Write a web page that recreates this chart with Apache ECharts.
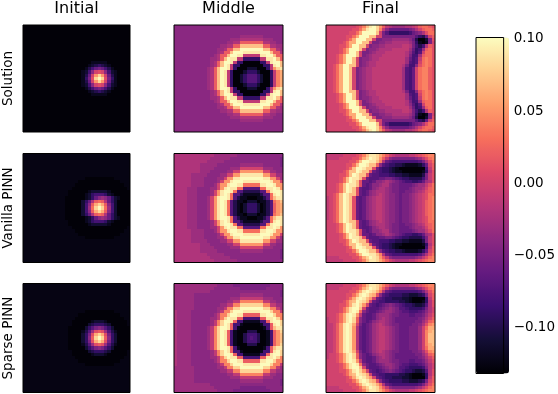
<!DOCTYPE html>
<html>
<head>
<meta charset="utf-8">
<style>html,body{margin:0;padding:0;background:#fff}#chart-container{width:558px;height:394px}</style>
<script src="https://cdn.jsdelivr.net/npm/echarts@6/dist/echarts.min.js"></script>
</head>
<body>
<div id="chart-container"></div>
<script>
// cell values are stored as one letter per cell, see levelChars / levelValues
const levelChars = 'abcdefghijklmnopqrstuvwxy';
const levelValues = [-0.13,-0.12,-0.11,-0.10,-0.09,-0.08,-0.07,-0.06,-0.05,-0.04,-0.03,-0.02,-0.01,0,0.01,0.02,0.03,0.04,0.05,0.06,0.07,0.08,0.09,0.10,-0.125];

const columnTitles = ['Initial', 'Middle', 'Final'];
const rowTitles = ['Solution', 'Vanilla PINN', 'Sparse PINN'];
const colorbarTicks = [-0.10, -0.05, 0, 0.05, 0.10];
const colorMin = -0.132;
const colorMax = 0.101;
const magma = ['#000004','#140e36','#3b0f70','#641a80','#8c2981','#b73779','#de4968','#f7705c','#fe9f6d','#fecf92','#fcfdbf'];

const solutionInitial = [
'aaaaaaaaaaaaaaaaaaaaaaaaaaaaaaaaa','aaaaaaaaaaaaaaaaaaaaaaaaaaaaaaaaa','aaaaaaaaaaaaaaaaaaaaaaaaaaaaaaaaa','aaaaaaaaaaaaaaaaaaaaaaaaaaaaaaaaa','aaaaaaaaaaaaaaaaaaaaaaaaaaaaaaaaa',
'aaaaaaaaaaaaaaaaaaaaaaaaaaaaaaaaa','aaaaaaaaaaaaaaaaaaaaaaaaaaaaaaaaa','aaaaaaaaaaaaaaaaaaaaaaaaaaaaaaaaa','aaaaaaaaaaaaaaaaaaaaaaaaaaaaaaaaa','aaaaaaaaaaaaaaaaaaaaaaaaaaaaaaaaa',
'aaaaaaaaaaaaaaaaaaaaaaaaaaaaaaaaa',
'aaaaaaaaaaaaaaaaaaaaabbbbbaaaaaaa',
'aaaaaaaaaaaaaaaaaaaabcdedcbaaaaaa',
'aaaaaaaaaaaaaaaaaaabdfhihfdbaaaaa',
'aaaaaaaaaaaaaaaaaabcfjnonjfcbaaaa',
'aaaaaaaaaaaaaaaaaabdhnsvsnhdbaaaa',
'aaaaaaaaaaaaaaaaaabeiovxvoiebaaaa',
'aaaaaaaaaaaaaaaaaabdhnsvsnhdbaaaa',
'aaaaaaaaaaaaaaaaaabcfjnonjfcbaaaa',
'aaaaaaaaaaaaaaaaaaabdfhihfdbaaaaa',
'aaaaaaaaaaaaaaaaaaaabcdedcbaaaaaa',
'aaaaaaaaaaaaaaaaaaaaabbbbbaaaaaaa',
'aaaaaaaaaaaaaaaaaaaaaaaaaaaaaaaaa',
'aaaaaaaaaaaaaaaaaaaaaaaaaaaaaaaaa','aaaaaaaaaaaaaaaaaaaaaaaaaaaaaaaaa','aaaaaaaaaaaaaaaaaaaaaaaaaaaaaaaaa','aaaaaaaaaaaaaaaaaaaaaaaaaaaaaaaaa','aaaaaaaaaaaaaaaaaaaaaaaaaaaaaaaaa',
'aaaaaaaaaaaaaaaaaaaaaaaaaaaaaaaaa','aaaaaaaaaaaaaaaaaaaaaaaaaaaaaaaaa','aaaaaaaaaaaaaaaaaaaaaaaaaaaaaaaaa','aaaaaaaaaaaaaaaaaaaaaaaaaaaaaaaaa','aaaaaaaaaaaaaaaaaaaaaaaaaaaaaaaaa'
];

const solutionMiddle = [
'jjjjjjjjjjjjjjjjjjjjjjjjjjjjjjjjj','jjjjjjjjjjjjjjjjjjjjjjjjjjjjjjjjj','jjjjjjjjjjjjjjjjjjjjjjjjjjjjjjjjj',
'jjjjjjjjjjjjjjjjjjjjkkkkkkkjjjjjj',
'jjjjjjjjjjjjjjjjjkkklllllllkkkjjj',
'jjjjjjjjjjjjjjjjkkllpppppppllkkjj',
'jjjjjjjjjjjjjjkkllppuuuuuuuppllkk',
'jjjjjjjjjjjjjkklppuuxxxxxxxuupplk',
'jjjjjjjjjjjjjklppuxxxwwwwwxxxuppl',
'jjjjjjjjjjjjklppuxxwwmmmmmwwxxupp',
'jjjjjjjjjjjkklpuxwwmmeeeeemmwwxup',
'jjjjjjjjjjjklpuxxwmeeaaaaaeemwxxu',
'jjjjjjjjjjjklpuxwmeeaaaaaaaeemwxu',
'jjjjjjjjjjklpuxxwmeaaacccaaaemsvw',
'jjjjjjjjjjklpuxwmeaaaceeecaaaemrt',
'jjjjjjjjjjklpuxwmeaacegggecaaemrt',
'jjjjjjjjjjklpuxwmeaacegggecaaemrt',
'jjjjjjjjjjklpuxwmeaacegggecaaemrt',
'jjjjjjjjjjklpuxwmeaaaceeecaaaemrt',
'jjjjjjjjjjklpuxxwmeaaacccaaaemsvw',
'jjjjjjjjjjjklpuxwmeeaaaaaaaeemwxu',
'jjjjjjjjjjjklpuxxwmeeaaaaaeemwxxu',
'jjjjjjjjjjjkklpuxwwmmeeeeemmwwxup',
'jjjjjjjjjjjjklppuxxwwmmmmmwwxxupp',
'jjjjjjjjjjjjjklppuxxxwwwwwxxxuppl',
'jjjjjjjjjjjjjkklppuuxxxxxxxuupplk',
'jjjjjjjjjjjjjjkkllppuuuuuuuppllkk',
'jjjjjjjjjjjjjjjjkkllpppppppllkkjj',
'jjjjjjjjjjjjjjjjjkkklllllllkkkjjj',
'jjjjjjjjjjjjjjjjjjjjkkkkkkkjjjjjj',
'jjjjjjjjjjjjjjjjjjjjjjjjjjjjjjjjj','jjjjjjjjjjjjjjjjjjjjjjjjjjjjjjjjj','jjjjjjjjjjjjjjjjjjjjjjjjjjjjjjjjj'
];

const solutionFinal = [
'nnnnnnnnnopruwxvspmlkkkkllmnpqqpo',
'nnnnnnnnooqtwxxvrmjhhhhhhijlnpqqp',
'nnnnnnnooqtxxxxunigeeeeeefhijloqq',
'nnnnnnooqtxxxuunniiiiiiiiiigedhnp',
'nnnnnnoqtxxxuuniijjjkkkkkjhdaacio',
'nnnnnoqttxxuuniijjkklllllkiebabin',
'nnnnooqtxxuunijjkklllllmmlifdflpo',
'nnnnoqtxxxunijjkllllmmmmmkhefkpqo',
'nnnnoqtxxuniijklllmmmmmmljgegnqqo',
'nnnoqtxxxunijklllmmmmmmmliffkpqqo',
'nnnoqtxxunijjkllmmmmmmmmkhfgmqrqo',
'nnnoqtxxunijkllmmmmmmmmmkgfgnqrqo',
'nnoqtxxuunijkllmmmmmmmmliffjoqrqo',
'nnoqtxxunijkllmmmmmmmmmkgfhnqrrpo',
'nnoqtxxunijkllmmmmmmmmmkgfhnqrrpo',
'nnoqtxxunijkllmmmmmmmmmkgfhnqrrpo',
'nnoqtxxunijkllmmmmmmmmmkgfhnqrrpo',
'nnoqtxxunijkllmmmmmmmmmkgfhnqrrpo',
'nnoqtxxunijkllmmmmmmmmmkgfhnqrrpo',
'nnoqtxxunijkllmmmmmmmmmkgfhnqrrpo',
'nnoqtxxuunijkllmmmmmmmmliffjoqrqo',
'nnnoqtxxunijkllmmmmmmmmmkgfgnqrqo',
'nnnoqtxxunijjkllmmmmmmmmkhfgmqrqo',
'nnnoqtxxxunijklllmmmmmmmliffkpqqo',
'nnnnoqtxxuniijklllmmmmmmljgegnqqo',
'nnnnoqtxxxunijjkllllmmmmmkhefkpqo',
'nnnnooqtxxuunijjkklllllmmlifdflpo',
'nnnnnoqttxxuuniijjkklllllkiebabin',
'nnnnnnoqtxxxuuniijjjkkkkkjhdaacio',
'nnnnnnooqtxxxuunniiiiiiiiiigedhnp',
'nnnnnnnooqtxxxxunigeeeeeefhijloqq',
'nnnnnnnnooqtwxxvrmjhhhhhhijlnpqqp',
'nnnnnnnnnopruwxvspmlkkkkllmnpqqpo'
];

const vanillaInitial = [
'yyyyyyyyyyyyyyyyyyyyyyyyyyyyyyyyy','yyyyyyyyyyyyyyyyyyyyyyyyyyyyyyyyy','yyyyyyyyyyyyyyyyyyyyyyyyyyyyyyyyy','yyyyyyyyyyyyyyyyyyyyyyyyyyyyyyyyy','yyyyyyyyyyyyyyyyyyyyyyyyyyyyyyyyy',
'yyyyyyyyyyyyyyyyyyyyyyyyyyyyyyyyy','yyyyyyyyyyyyyyyyyyyyyyyyyyyyyyyyy',
'yyyyyyyyyyyyyyyyyyyaaaaaaaaayyyyy',
'yyyyyyyyyyyyyyyyyaaaaaaaaaaaaayyy',
'yyyyyyyyyyyyyyyyaaaaaaaaaaaaaaayy',
'yyyyyyyyyyyyyyyaaaaaaaaaaaaaaaaay',
'yyyyyyyyyyyyyyaaaaaabcccccbaaaaaa',
'yyyyyyyyyyyyyyaaaaabcefffecbaaaaa',
'yyyyyyyyyyyyyaaaaaabcehjkjhecbaaa',
'yyyyyyyyyyyyyaaaaacehlpqplhecaaaa',
'yyyyyyyyyyyyyaaaaacfjptvtpjfcaaaa',
'yyyyyyyyyyyyyaaaaacfkqvxvqkfcaaaa',
'yyyyyyyyyyyyyaaaaacfjptvtpjfcaaaa',
'yyyyyyyyyyyyyaaaaacehlpqplhecaaaa',
'yyyyyyyyyyyyyaaaaaabcehjkjhecbaaa',
'yyyyyyyyyyyyyyaaaaabcefffecbaaaaa',
'yyyyyyyyyyyyyyaaaaaabcccccbaaaaaa',
'yyyyyyyyyyyyyyyaaaaaaaaaaaaaaaaay',
'yyyyyyyyyyyyyyyyaaaaaaaaaaaaaaayy',
'yyyyyyyyyyyyyyyyyaaaaaaaaaaaaayyy',
'yyyyyyyyyyyyyyyyyyyaaaaaaaaayyyyy',
'yyyyyyyyyyyyyyyyyyyyyyyyyyyyyyyyy','yyyyyyyyyyyyyyyyyyyyyyyyyyyyyyyyy','yyyyyyyyyyyyyyyyyyyyyyyyyyyyyyyyy','yyyyyyyyyyyyyyyyyyyyyyyyyyyyyyyyy','yyyyyyyyyyyyyyyyyyyyyyyyyyyyyyyyy',
'yyyyyyyyyyyyyyyyyyyyyyyyyyyyyyyyy','yyyyyyyyyyyyyyyyyyyyyyyyyyyyyyyyy'
];

const vanillaMiddle = [
'llllllllllllkkkkkkkjjjjjjjjjjjjjj',
'lllllllllllkkkkkkjjjjjjjjjjjjjjji',
'llllllllllkkkkkjjjjjjjjjjjjjjjjji',
'llllllllkkkkkjjjjjjjkkkkkkkjjjjji',
'llllllllkkkkjjjjjkkknnnnnnnkkkjjj',
'llllllllkkkjjjjjkknnsssssssnnkkjj',
'lllllkkkkkjjjjkknnsswwwwwwwssnnkk',
'lllllkkkkjjjjkknsswwxxxxxxxwwssnk',
'lllllkkkkjjjjknsswxxxwwwwwxxxwssn',
'lllllkkkkjjjknsswxxwwqqqqqwwxxwss',
'llllkkkjjjjkknswxwwqqgggggqqwwxws',
'llllkkkjjjjknswxxwqggdddddggqwxxw',
'llllkkkjjjjknswxwqggdbbbbbdggqwxw',
'llllkkkjjjknswxxwqgdbbaaabbdgquww',
'llllkkkjjjknswxwqgdbbacccabbdgqsu',
'llllkkkjjjknswxwqgdbaceeecabdgpst',
'llllkkkjjjknswxwqgdbaceeecabdgpst',
'llllkkkjjjknswxwqgdbaceeecabdgpst',
'llllkkkjjjknswxwqgdbbacccabbdgqsu',
'llllkkkjjjknswxxwqgdbbaaabbdgquww',
'llllkkkjjjjknswxwqggdbbbbbdggqwxw',
'llllkkkjjjjknswxxwqggdddddggqwxxw',
'llllkkkjjjjkknswxwwqqgggggqqwwxws',
'lllllkkkkjjjknsswxxwwqqqqqwwxxwss',
'lllllkkkkjjjjknsswxxxwwwwwxxxwssn',
'lllllkkkkjjjjkknsswwxxxxxxxwwssnk',
'lllllkkkkkjjjjkknnsswwwwwwwssnnkk',
'llllllllkkkjjjjjkknnsssssssnnkkjj',
'llllllllkkkkjjjjjkkknnnnnnnkkkjjj',
'llllllllkkkkkjjjjjjjkkkkkkkjjjjji',
'llllllllllkkkkkjjjjjjjjjjjjjjjjji',
'lllllllllllkkkkkkjjjjjjjjjjjjjjji',
'llllllllllllkkkkkkkjjjjjjjjjjjjjj'
];

const vanillaFinal = [
'mmmmmnnnnopruwwvtrpnmllllmmnopqrr',
'mmmmnnnnooqtvxwvspmjiiiiiiijkmoqr',
'nnnnnnnooquxxwwurlhgffffffffgiloq',
'nnnnnnooquxxwuupjgfeeddcbbbbcehnp',
'nnnnnnoquxxwuuohfeedcbaaaaaaaafmp',
'nnnnnoquuxwuuohgfeedcbbaaaaaabelo',
'nnnnooquxwuuohggfffeeddccbbbbdimo',
'nnnnoquxwwuohggghhiihgfeeddddfimo',
'nnnnoquxwuohhghjjklkjihgffeefhklo',
'nnnoquxwwuohghjjklljiihhhhijkkmoq',
'nnnoquxwuohgghjkllkjiihhhijkklnpq',
'nnnoquxwuohghjklllkjiihhiijklmopq',
'nnoquxwuuohghjklmlkjjihiijklmnoqq',
'mnoquxwuohghjklmmlkjjihiijklmnoqr',
'mnoquxwuohghjklmmlkjjihiijklmnpqr',
'mnoquxwuohghjklmmlkjjihiijklmnpqr',
'mnoquxwuohghjklmmlkjjihiijklmnpqr',
'mnoquxwuohghjklmmlkjjihiijklmnpqr',
'mnoquxwuohghjklmmlkjjihiijklmnpqr',
'mnoquxwuohghjklmmlkjjihiijklmnoqr',
'nnoquxwuuohghjklmlkjjihiijklmnoqq',
'nnnoquxwuohghjklllkjiihhiijklmopq',
'nnnoquxwuohgghjkllkjiihhhijkklnpq',
'nnnoquxwwuohghjjklljiihhhhijkkmoq',
'nnnnoquxwuohhghjjklkjihgffeefhklo',
'nnnnoquxwwuohggghhiihgfeeddddfimo',
'nnnnooquxwuuohggfffeeddccbbbbdimo',
'nnnnnoquuxwuuohgfeedcbbaaaaaabelo',
'nnnnnnoquxxwuuohfeedcbaaaaaaaafmp',
'nnnnnnooquxxwuupjgfeeddcbbbbcehnp',
'nnnnnnnooquxxwwurlhgffffffffgiloq',
'mmmmnnnnooqtvxwvspmjiiiiiiijkmoqr',
'mmmmmnnnnopruwwvtrpnmllllmmnopqrr'
];

const sparseInitial = [
'yyyyyyyyyyyyyyyyyyyyyyyyyyyyyyyyy','yyyyyyyyyyyyyyyyyyyyyyyyyyyyyyyyy','yyyyyyyyyyyyyyyyyyyyyyyyyyyyyyyyy','yyyyyyyyyyyyyyyyyyyyyyyyyyyyyyyyy','yyyyyyyyyyyyyyyyyyyyyyyyyyyyyyyyy',
'yyyyyyyyyyyyyyyyyyyyyyyyyyyyyyyyy','yyyyyyyyyyyyyyyyyyyyyyyyyyyyyyyyy','yyyyyyyyyyyyyyyyyyyyyyyyyyyyyyyyy',
'yyyyyyyyyyyyyyyyyyyaaaaaaaaayyyyy',
'yyyyyyyyyyyyyyyyyaaaaaaaaaaaaayyy',
'yyyyyyyyyyyyyyyyaaaaaaaaaaaaaaayy',
'yyyyyyyyyyyyyyyaaaaaabcccbaaaaaay',
'yyyyyyyyyyyyyyyaaaaacdeeedcaaaaay',
'yyyyyyyyyyyyyyaaaaacegijigecaaaaa',
'yyyyyyyyyyyyyyaaaabdgkopokgdbaaaa',
'yyyyyyyyyyyyyyaaaaceiotvtoiecaaaa',
'yyyyyyyyyyyyyyaaaacejpvxvpjecaaaa',
'yyyyyyyyyyyyyyaaaaceiotvtoiecaaaa',
'yyyyyyyyyyyyyyaaaabdgkopokgdbaaaa',
'yyyyyyyyyyyyyyaaaaacegijigecaaaaa',
'yyyyyyyyyyyyyyyaaaaacdeeedcaaaaay',
'yyyyyyyyyyyyyyyaaaaaabcccbaaaaaay',
'yyyyyyyyyyyyyyyyaaaaaaaaaaaaaaayy',
'yyyyyyyyyyyyyyyyyaaaaaaaaaaaaayyy',
'yyyyyyyyyyyyyyyyyyyaaaaaaaaayyyyy',
'yyyyyyyyyyyyyyyyyyyyyyyyyyyyyyyyy','yyyyyyyyyyyyyyyyyyyyyyyyyyyyyyyyy','yyyyyyyyyyyyyyyyyyyyyyyyyyyyyyyyy','yyyyyyyyyyyyyyyyyyyyyyyyyyyyyyyyy','yyyyyyyyyyyyyyyyyyyyyyyyyyyyyyyyy',
'yyyyyyyyyyyyyyyyyyyyyyyyyyyyyyyyy','yyyyyyyyyyyyyyyyyyyyyyyyyyyyyyyyy','yyyyyyyyyyyyyyyyyyyyyyyyyyyyyyyyy'
];

const sparseMiddle = [
'kkkkkkkkkkkkkjjjjjiiiiiiiiiiijjjj',
'kkkkkkkkkkkkjjjjjjjjiiiiiiiijjjjj',
'kkkkkkkkkkkjjjjjjjjjjjjjjjjjjjjji',
'kkkkkkjjjjjjjjjjjjjjkkkkkkkjjjjji',
'kkkkkkjjjjjjjjjjjkkkmmmmmmmkkkjjj',
'kkkkkkjjjjjjjjjjkkmmrrrrrrrmmkkjj',
'kkkkkkjjjjjjjjkkmmrrvvvvvvvrrmmkk',
'kkkkkkjjjjjjjkkmrrvvxxxxxxxvvrrmk',
'lkkkkjjjjjjjjkmrrvxxxwwwwwxxxvrrm',
'lkkkkjjjjjjjkmrrvxxwwpppppwwxxvrr',
'lkkkkjjjjjjkkmrvxwwppfffffppwwxvr',
'lkkkkjjjjjjkmrvxxwpffbbbbbffpwxxv',
'lkkkkjjjjjjkmrvxwpffbaaaaabffpwxv',
'lkkkkjjjjjkmrvxxwpfbaaaaaaabfpuww',
'lkkkkjjjjjkmrvxwpfbaaadddaaabfpsv',
'lkkkkjjjjjkmrvxwpfbaadfffdaabfpsu',
'lkkkkjjjjjkmrvxwpfbaadfgfdaabfpsu',
'lkkkkjjjjjkmrvxwpfbaadfffdaabfpsu',
'lkkkkjjjjjkmrvxwpfbaaadddaaabfpsv',
'lkkkkjjjjjkmrvxxwpfbaaaaaaabfpuww',
'lkkkkjjjjjjkmrvxwpffbaaaaabffpwxv',
'lkkkkjjjjjjkmrvxxwpffbbbbbffpwxxv',
'lkkkkjjjjjjkkmrvxwwppfffffppwwxvr',
'lkkkkjjjjjjjkmrrvxxwwpppppwwxxvrr',
'lkkkkjjjjjjjjkmrrvxxxwwwwwxxxvrrm',
'kkkkkkjjjjjjjkkmrrvvxxxxxxxvvrrmk',
'kkkkkkjjjjjjjjkkmmrrvvvvvvvrrmmkk',
'kkkkkkjjjjjjjjjjkkmmrrrrrrrmmkkjj',
'kkkkkkjjjjjjjjjjjkkkmmmmmmmkkkjjj',
'kkkkkkjjjjjjjjjjjjjjkkkkkkkjjjjji',
'kkkkkkkkkkkjjjjjjjjjjjjjjjjjjjjji',
'kkkkkkkkkkkkjjjjjjjjiiiiiiiijjjjj',
'kkkkkkkkkkkkkjjjjjiiiiiiiiiiijjjj'
];

const sparseFinal = [
'mmmmmnnnnopruwwvtrpnmllllmmnopqrr',
'mmmmnnnnooqtvxwvspmjiiiiiiijkmoqr',
'nnnnnnnooqtwxwvtqlhgffffffffgiloq',
'nnnnnnooqtwxwutojgfeeeeddcccdeinp',
'nnnnnnoqtwxwusnhgfeedddccbaaaaemp',
'nnnnnoqtuxwvtnhgffeeeeddcbaaabelo',
'nnnnooqtwxvsnhgfghijihgfeedccdglo',
'nnnnoqtwxxunhggghijkjiggfeeeefiln',
'nnnnoqtwxwqjhgghijkkjihggfffghjln',
'nnnoqtwxwsmhgghjkkkjiihhhgghhikmo',
'mnnoqtwxvpjhgghjklkjihhhhhhhijlnp',
'mnnoqtwxvpjhghjkllkjihhhhhhiikmpq',
'mmnpswxwtnighiklmlkjiihhhhiijlors',
'mmnpswxwslhghiklmmlkjihhhiiiknqtt',
'mmnpswxwslhghiklmmlkjihhhiiiknrtu',
'mmnpswxwslhghiklmmlkjihhhiiiknruu',
'mmnpswxwslhghiklmmlkjihhhiiiknruu',
'mmnpswxwslhghiklmmlkjihhhiiiknruu',
'mmnpswxwslhghiklmmlkjihhhiiiknrtu',
'mmnpswxwslhghiklmmlkjihhhiiiknqtt',
'mmnpswxwtnighiklmlkjiihhhhiijlors',
'mnnoqtwxvpjhghjkllkjihhhhhhiikmpq',
'mnnoqtwxvpjhgghjklkjihhhhhhhijlnp',
'nnnoqtwxwsmhgghjkkkjiihhhgghhikmo',
'nnnnoqtwxwqjhgghijkkjihggfffghjln',
'nnnnoqtwxxunhggghijkjiggfeeeefiln',
'nnnnooqtwxvsnhgfghijihgfeedccdglo',
'nnnnnoqtuxwvtnhgffeeeeddcbaaabelo',
'nnnnnnoqtwxwusnhgfeedddccbaaaaemp',
'nnnnnnooqtwxwutojgfeeeeddcccdeinp',
'nnnnnnnooqtwxwvtqlhgffffffffgiloq',
'mmmmnnnnooqtvxwvspmjiiiiiiijkmoqr',
'mmmmmnnnnopruwwvtrpnmllllmmnopqrr'
];

const panels = [
	[solutionInitial, solutionMiddle, solutionFinal],
	[vanillaInitial, vanillaMiddle, vanillaFinal],
	[sparseInitial, sparseMiddle, sparseFinal]
];

const toCells = rows => {
	let out = [];
	rows.forEach((row, y) => {
		row.split('').forEach((ch, x) => out.push([x, y, levelValues[levelChars.indexOf(ch)]]));
	});
	return out;
};

// snap each cell to whole pixels, a plain heatmap leaves seams between fractional cells
const drawCell = (params, api) => {
	const center = api.coord([api.value(0), api.value(1)]);
	const size = api.size([1, 1]);
	const x0 = Math.round(center[0] - size[0] / 2);
	const x1 = Math.round(center[0] + size[0] / 2);
	const y0 = Math.round(center[1] - size[1] / 2);
	const y1 = Math.round(center[1] + size[1] / 2);
	return {
		type: 'rect',
		shape: { x: x0, y: y0, width: x1 - x0, height: y1 - y0 },
		style: { fill: api.visual('color') }
	};
};

const gridLeft = [21, 174, 326];
const gridTop = [23, 153.5, 283.5];
const gridSize = 109;

let grids = [], xAxes = [], yAxes = [], series = [];
const fontFamily = 'DejaVu Sans';

panels.forEach((rowPanels, r) => {
	rowPanels.forEach((rows, c) => {
		const index = grids.length;
		const ids = rows[0].split('').map((_, i) => i);
		grids.push({
			left: gridLeft[c], top: gridTop[r], width: gridSize, height: gridSize,
			show: true, borderColor: '#000', borderWidth: 1, backgroundColor: 'transparent', z: 5
		});
		xAxes.push({
			type: 'category', gridIndex: index, data: ids, position: 'top',
			axisLine: { show: false }, axisTick: { show: false }, axisLabel: { show: false }, splitLine: { show: false },
			name: r === 0 ? columnTitles[c] : '',
			nameLocation: 'middle', nameGap: 8,
			nameTextStyle: { fontFamily: fontFamily, fontSize: 16, color: '#000' }
		});
		yAxes.push({
			type: 'category', gridIndex: index, data: rows.map((_, i) => i), inverse: true,
			axisLine: { show: false }, axisTick: { show: false }, axisLabel: { show: false }, splitLine: { show: false },
			name: c === 0 ? rowTitles[r] : '',
			nameLocation: 'middle', nameGap: 8, nameRotate: 90,
			nameTextStyle: { fontFamily: fontFamily, fontSize: 13.5, color: '#000' }
		});
		series.push({
			type: 'custom', xAxisIndex: index, yAxisIndex: index,
			data: toCells(rows), silent: true, renderItem: drawCell,
			encode: { x: 0, y: 1 }, progressive: 0
		});
	});
});

// colorbar frame and ticks, the gradient itself comes from the visualMap
const barIndex = grids.length;
grids.push({
	left: 476, top: 37.5, width: 33, height: 336,
	show: true, borderColor: '#000', borderWidth: 1, backgroundColor: 'transparent', z: 6
});
xAxes.push({ type: 'value', gridIndex: barIndex, min: 0, max: 1, show: false });
yAxes.push({
	type: 'value', gridIndex: barIndex, position: 'right', min: colorMin, max: colorMax,
	splitLine: { show: false },
	axisLine: { show: false },
	axisTick: { show: true, length: 4, lineStyle: { color: '#000' }, customValues: colorbarTicks },
	axisLabel: {
		show: true, margin: 10, color: '#000', fontFamily: fontFamily, fontSize: 13.5,
		customValues: colorbarTicks,
		formatter: v => v.toFixed(2).replace('-', '\u2212')
	}
});

const myChart = echarts.init(document.getElementById('chart-container'), null, { renderer: 'canvas' });
myChart.setOption({
	animation: false,
	backgroundColor: '#fff',
	grid: grids,
	xAxis: xAxes,
	yAxis: yAxes,
	visualMap: {
		type: 'continuous', min: colorMin, max: colorMax, dimension: 2,
		seriesIndex: series.map((_, i) => i),
		inRange: { color: magma },
		calculable: false, realtime: false, hoverLink: false,
		left: 476, top: 37.5, itemWidth: 33, itemHeight: 336, padding: 0
	},
	series: series
});
</script>
</body>
</html>
